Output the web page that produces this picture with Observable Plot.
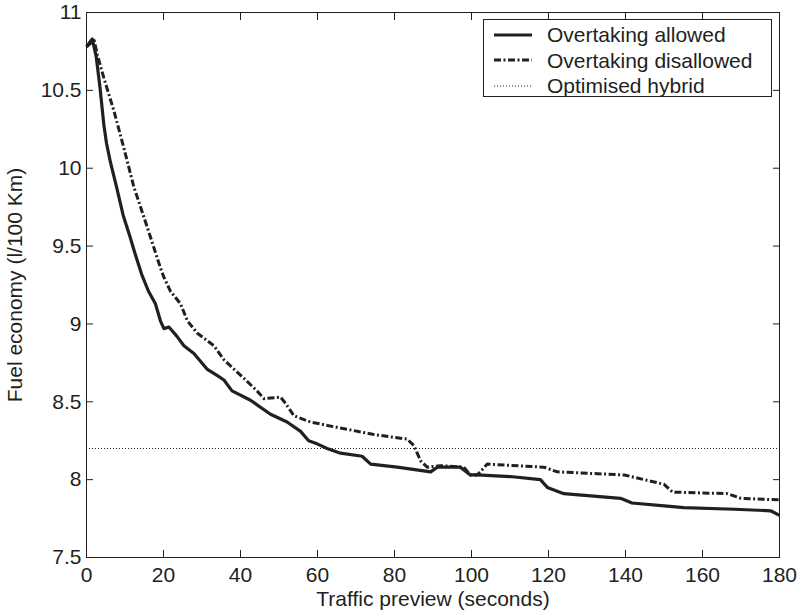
<!DOCTYPE html>
<html>
<head>
<meta charset="utf-8">
<script src="https://cdn.jsdelivr.net/npm/d3@7"></script>
<script src="https://cdn.jsdelivr.net/npm/@observablehq/plot@0.6"></script>
<style>
  html, body { margin: 0; padding: 0; background: #fff; }
  #wrap { position: relative; width: 797px; height: 612px; font-family: "Liberation Sans", Arial, Helvetica, sans-serif; color: #231f20; }
  #legend { position: absolute; left: 483px; top: 19px; width: 289px; height: 78px; border: 1px solid #231f20; background: #fff; box-sizing: border-box; padding-top: 2px; }
  .row { display: flex; align-items: center; height: 25.5px; }
  .row svg { margin-left: 10px; margin-right: 15px; }
  .row span { font-size: 21px; line-height: 21px; }
</style>
</head>
<body>
<div id="wrap"></div>
<script>
// ---- data ----
const seriesNames = ["Overtaking allowed", "Overtaking disallowed", "Optimised hybrid"];

const allowedX = [0, 1.5, 2.5, 3.5, 4.5, 5.2, 6.2, 7.8, 9.5, 11.3, 12.5, 14.3, 16.1, 17.9, 19.2, 20.1, 21.4, 23.5, 25.3, 27.9, 29.6, 31.3, 33.9, 35.7, 37.8, 42.6, 47.8, 52.1, 55.6, 57.7, 59.9, 62.5, 66, 71.6, 73.8, 80.7, 89.4, 91.1, 97.1, 99.7, 101.5, 110, 117.9, 119.7, 124, 138.7, 141.7, 150.8, 155.1, 168.3, 177.7, 180];
const allowedY = [10.78, 10.83, 10.72, 10.52, 10.28, 10.16, 10.04, 9.88, 9.70, 9.56, 9.46, 9.32, 9.21, 9.13, 9.02, 8.97, 8.98, 8.92, 8.86, 8.81, 8.76, 8.71, 8.67, 8.64, 8.57, 8.51, 8.42, 8.37, 8.31, 8.25, 8.23, 8.20, 8.17, 8.15, 8.10, 8.08, 8.05, 8.08, 8.08, 8.03, 8.03, 8.02, 8.00, 7.95, 7.91, 7.88, 7.85, 7.83, 7.82, 7.81, 7.80, 7.77];

const disallowedX = [0, 1, 2, 2.8, 4.5, 7.1, 9.7, 12.3, 15.8, 19.2, 20.1, 21.8, 24.4, 26.2, 28.8, 33.1, 35.7, 40.9, 44.3, 46.1, 50.4, 51.7, 53.9, 58.2, 64.2, 74.6, 83.3, 85.0, 86.8, 88.5, 91.9, 98, 99.7, 101.5, 104.1, 118.8, 122.3, 139.7, 146.6, 150, 152.2, 166.5, 170, 180];
const disallowedY = [10.78, 10.80, 10.82, 10.73, 10.58, 10.37, 10.13, 9.88, 9.62, 9.36, 9.30, 9.21, 9.13, 9.02, 8.94, 8.86, 8.77, 8.65, 8.57, 8.52, 8.53, 8.49, 8.41, 8.37, 8.34, 8.29, 8.26, 8.22, 8.12, 8.08, 8.09, 8.08, 8.03, 8.03, 8.10, 8.08, 8.05, 8.03, 7.99, 7.97, 7.92, 7.91, 7.88, 7.87];

const hybridValue = [8.2];

const xTicks = [0, 20, 40, 60, 80, 100, 120, 140, 160, 180];
const yTicks = [7.5, 8, 8.5, 9, 9.5, 10, 10.5, 11];
const yTickLabels = ["7.5", "8", "8.5", "9", "9.5", "10", "10.5", "11"];
const xLabel = "Traffic preview (seconds)";
const yLabel = "Fuel economy (l/100 Km)";

// ---- chart ----
const ink = "#231f20";
const chart = Plot.plot({
  width: 797,
  height: 612,
  marginLeft: 86,
  marginRight: 18,
  marginTop: 12,
  marginBottom: 55,
  style: { fontFamily: "'Liberation Sans', Arial, Helvetica, sans-serif", fontSize: "21px", color: ink, background: "#fff" },
  x: { domain: [0, 180], label: null },
  y: { domain: [7.5, 11], label: null },
  marks: [
    Plot.ruleY(hybridValue, { stroke: ink, strokeWidth: 1, strokeDasharray: "1,2" }),
    Plot.line(allowedX, { x: allowedX, y: allowedY, stroke: ink, strokeWidth: 3.2, strokeLinecap: "butt" }),
    Plot.line(disallowedX, { x: disallowedX, y: disallowedY, stroke: ink, strokeWidth: 3, strokeLinecap: "butt", strokeDasharray: "7,2.5,2,2.5" }),
    Plot.frame({ stroke: ink, strokeWidth: 1 }),
    Plot.axisX(xTicks, { anchor: "bottom", tickSize: -7, tickPadding: 17, stroke: ink, fill: ink, fontSize: 21, label: xLabel, labelAnchor: "center", labelOffset: 48, labelArrow: "none" }),
    Plot.axisX(xTicks, { anchor: "top", tickSize: -7, tickFormat: () => "", stroke: ink, label: null }),
    Plot.axisY(yTicks, { anchor: "left", tickSize: -7, tickPadding: 12, stroke: ink, fill: ink, fontSize: 21, tickFormat: d => yTickLabels[yTicks.indexOf(d)], label: yLabel, labelAnchor: "center", labelOffset: 79, labelArrow: "none" }),
    Plot.axisY(yTicks, { anchor: "right", tickSize: -7, tickFormat: () => "", stroke: ink, label: null })
  ]
});

const wrap = document.getElementById("wrap");
wrap.appendChild(chart);

// legend box (inside the plot, top right)
const legend = document.createElement("div");
legend.id = "legend";
const swatches = [
  { dash: null, width: 3.2 },
  { dash: "7,2.5,2,2.5", width: 3 },
  { dash: "1,2", width: 1 }
];
seriesNames.forEach((name, i) => {
  const row = document.createElement("div");
  row.className = "row";
  const s = swatches[i];
  row.innerHTML = `<svg width="38" height="10"><line x1="0" x2="38" y1="5" y2="5" stroke="${ink}" stroke-width="${s.width}" ${s.dash ? `stroke-dasharray="${s.dash}"` : ""}/></svg><span>${name}</span>`;
  legend.appendChild(row);
});
wrap.appendChild(legend);
</script>
</body>
</html>
